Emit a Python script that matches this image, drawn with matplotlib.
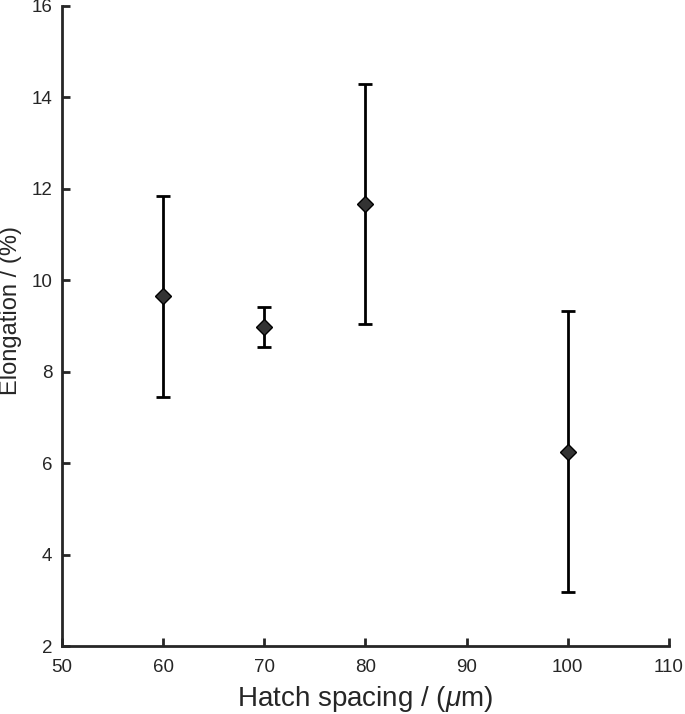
import matplotlib

matplotlib.use("Agg")

import matplotlib.pyplot as plt

plt.rcParams["font.family"] = ["Liberation Sans", "DejaVu Sans"]
plt.rcParams["mathtext.fontset"] = "custom"
plt.rcParams["mathtext.it"] = "Liberation Sans:italic"
plt.rcParams["mathtext.rm"] = "Liberation Sans"

hatch_spacing = [60, 70, 80, 100]
elongation = [9.65, 8.97, 11.67, 6.25]
err_low = [7.45, 8.53, 9.05, 3.19]
err_high = [11.84, 9.41, 14.29, 9.32]

lower = [m - lo for m, lo in zip(elongation, err_low)]
upper = [hi - m for m, hi in zip(elongation, err_high)]

figure = plt.figure(figsize=(6.85, 7.14), dpi=100)
axes = figure.add_axes([0.0905, 0.0952, 0.886, 0.8964])

axes.errorbar(
    hatch_spacing,
    elongation,
    yerr=[lower, upper],
    fmt="D",
    color="black",
    ecolor="black",
    markerfacecolor="#333333",
    markeredgecolor="black",
    markersize=8,
    elinewidth=2,
    capsize=5,
    capthick=2,
)

axes.set_xlim(50, 110)
axes.set_ylim(2, 16)
axes.set_xticks(range(50, 111, 10))
axes.set_yticks(range(2, 17, 2))
axes.spines["top"].set_visible(False)
axes.spines["right"].set_visible(False)
for side in ("left", "bottom"):
    axes.spines[side].set_linewidth(2)
    axes.spines[side].set_color("#262626")
axes.tick_params(direction="in", length=6, width=2, colors="#262626",
                 labelsize=13.5, labelcolor="#262626")
axes.tick_params(axis="x", pad=9)
axes.tick_params(axis="y", pad=7)
axes.set_xlabel(r"Hatch spacing / ($\mu$m)", fontsize=20, color="#262626",
                labelpad=6)
axes.set_ylabel("Elongation / (%)", fontsize=17, color="#262626")
axes.yaxis.set_label_coords(-0.066, 0.524)

figure.savefig("out.png", dpi=100)
plt.close(figure)
